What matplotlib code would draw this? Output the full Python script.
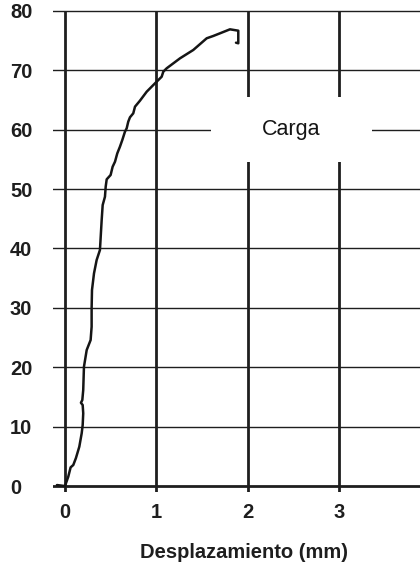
import matplotlib
matplotlib.use('Agg')
import matplotlib.pyplot as plt
from matplotlib.patches import Rectangle

plt.rcParams['font.family'] = ['Liberation Sans', 'DejaVu Sans']

# curva carga-desplazamiento
desplazamiento = [-0.088, 0.0, 0.036, 0.062, 0.091, 0.12, 0.157, 0.183, 0.194, 0.2,
                  0.194, 0.175, 0.19, 0.2, 0.208, 0.238, 0.281, 0.292, 0.292, 0.296,
                  0.318, 0.347, 0.383, 0.402, 0.413, 0.438, 0.446, 0.457, 0.5, 0.522,
                  0.548, 0.573, 0.602, 0.628, 0.657, 0.676, 0.693, 0.712, 0.748, 0.767,
                  0.821, 0.895, 0.986, 1.059, 1.077, 1.114, 1.26, 1.405, 1.552, 1.624,
                  1.698, 1.807, 1.898, 1.898, 1.873]
carga = [0.17, 0.0, 1.57, 3.15, 3.54, 4.71, 6.62, 8.87, 10.27, 12.24,
         13.64, 14.02, 14.48, 16.16, 20.08, 22.9, 24.58, 26.82, 29.92, 33.0,
         35.8, 38.05, 39.73, 44.78, 47.3, 48.7, 50.39, 51.63, 52.36, 53.75,
         54.6, 56.0, 57.12, 58.25, 59.65, 60.22, 61.33, 62.07, 62.74, 63.86,
         64.86, 66.38, 67.79, 68.9, 69.75, 70.32, 72.0, 73.4, 75.37, 75.76,
         76.21, 76.88, 76.65, 74.53, 74.63]

xticks = [0, 1, 2, 3]
yticks = [0, 10, 20, 30, 40, 50, 60, 70, 80]
etiqueta = 'Carga'
xlabel = 'Desplazamiento (mm)'

ink = '#1e1e1e'

fig = plt.figure(figsize=(4.2, 5.68), dpi=100)
ax = fig.add_axes([53 / 420, 76 / 568, 367 / 420, 483 / 568])
ax.set_xlim(-0.131, 3.888)
ax.set_ylim(-1.0, 80.3)

for y in yticks:
    ax.axhline(y, color=ink, lw=2.0 if y == 0 else 1.0, zorder=1)
ax.vlines(xticks, -1.0, 80, colors=ink, lw=2.0, zorder=2)

# hueco blanco con la etiqueta
ax.add_patch(Rectangle((1.596, 54.5), 1.767, 11.0, facecolor='white',
                       edgecolor='none', zorder=3))
ax.text(2.475, 60.1, etiqueta, ha='center', va='center', fontsize=15.5,
        color='#151515', zorder=5)

ax.plot(desplazamiento, carga, color='#151515', lw=1.8, zorder=4,
        solid_capstyle='round', solid_joinstyle='round')

for s in ax.spines.values():
    s.set_visible(False)

ax.set_xticks(xticks)
ax.set_yticks(yticks)
ax.set_xticklabels([str(v) for v in xticks])
ax.set_yticklabels([str(v) for v in yticks])
ax.tick_params(axis='x', length=0, pad=8, labelsize=14.5, labelcolor=ink)
ax.tick_params(axis='y', length=0, pad=31, labelsize=14.5, labelcolor=ink)
for lbl in ax.get_xticklabels() + ax.get_yticklabels():
    lbl.set_fontweight('bold')
for lbl in ax.get_yticklabels():
    lbl.set_horizontalalignment('left')

fig.text(244 / 420, 1 - 553 / 568, xlabel, ha='center', va='center',
         fontsize=14.5, fontweight='bold', color=ink)

fig.savefig('out.png', dpi=100)
